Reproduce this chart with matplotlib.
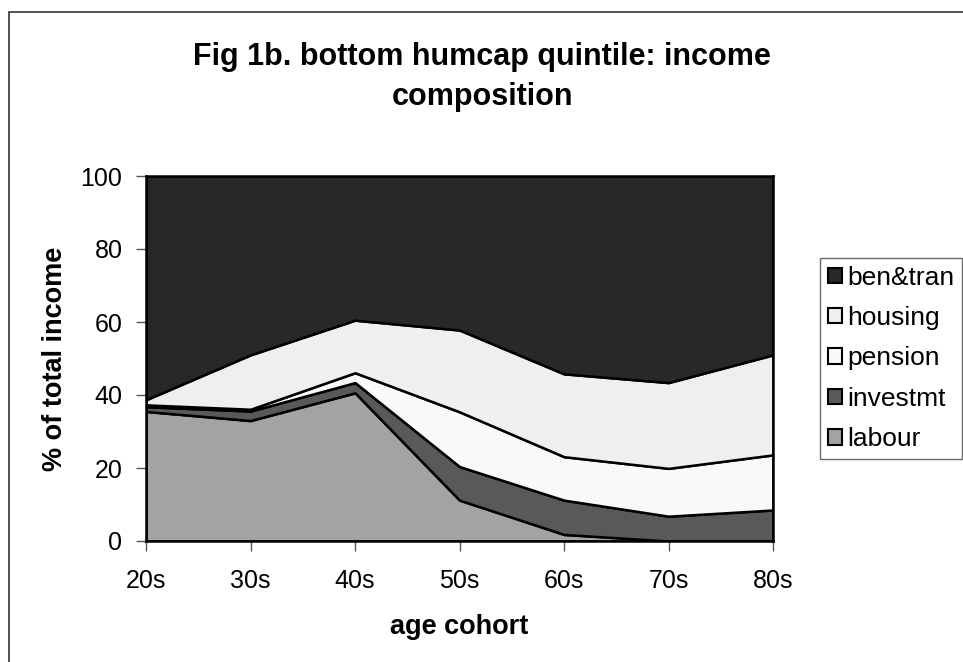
import matplotlib.pyplot as plt
import matplotlib.patches as mpatches

plt.rcParams["font.family"] = ["Liberation Sans", "DejaVu Sans"]

# age cohorts and income shares (% of total income), bottom to top of the stack
cohorts = ["20s", "30s", "40s", "50s", "60s", "70s", "80s"]
labour = [35.5, 33.0, 40.6, 11.2, 1.8, 0.0, 0.0]
investmt = [1.3, 2.6, 2.8, 9.2, 9.4, 6.8, 8.5]
pension = [0.5, 0.5, 2.7, 15.0, 11.9, 13.1, 15.1]
housing = [1.4, 14.9, 14.4, 22.4, 22.7, 23.5, 27.4]
ben_tran = [61.3, 49.0, 39.5, 42.2, 54.2, 56.6, 49.0]

names = ["labour", "investmt", "pension", "housing", "ben&tran"]
colors = ["#a3a3a3", "#595959", "#f9f9f9", "#efefef", "#282828"]

fig = plt.figure(figsize=(9.63, 6.62), dpi=100)
ax = fig.add_axes([146 / 963, 1 - 541 / 662, 627 / 963, 365 / 662])

x = list(range(len(cohorts)))
ax.stackplot(x, labour, investmt, pension, housing, ben_tran,
             colors=colors, edgecolor="black", linewidth=1.8)

ax.set_xlim(0, 6)
ax.set_ylim(0, 100)
ax.set_xticks(x)
ax.set_xticklabels(cohorts)
ax.set_yticks(range(0, 101, 20))
ax.tick_params(axis="both", direction="out", length=7, width=1,
               color="#555555", labelsize=18)
ax.tick_params(axis="x", pad=13)
ax.tick_params(axis="y", pad=10)
for s in ax.spines.values():
    s.set_linewidth(1.8)
    s.set_color("black")

ax.set_xlabel("age cohort", fontsize=19.5, fontweight="bold")
ax.xaxis.set_label_coords(0.5, -0.2)
ax.set_ylabel("% of total income", fontsize=19.5, fontweight="bold")
ax.yaxis.set_label_coords(-0.125, 0.5)

fig.text(482 / 963, 1 - 42 / 662,
         "Fig 1b. bottom humcap quintile: income\ncomposition",
         ha="center", va="top", ma="center", fontsize=22,
         fontweight="bold", linespacing=1.45)

# legend, top series first
handles = [mpatches.Patch(facecolor=c, edgecolor="black", linewidth=1.5, label=n)
           for n, c in zip(names, colors)][::-1]
leg = fig.legend(handles=handles, loc="center left",
                 bbox_to_anchor=(820 / 963, 1 - 358.5 / 662),
                 fontsize=19, frameon=True, fancybox=False,
                 handlelength=0.52, handleheight=0.52, handletextpad=0.2,
                 labelspacing=0.62, borderpad=0.3, borderaxespad=0)
leg.get_frame().set_edgecolor("#444444")
leg.get_frame().set_linewidth(1.0)

# outer chart frame (cut off at the right and bottom)
fig.patches.append(mpatches.Rectangle((9 / 963, -0.05), 1.1, 1.05 - 12 / 662,
                                      transform=fig.transFigure, fill=False,
                                      edgecolor="#333333", linewidth=1.2))

fig.savefig("out.png", dpi=100)
